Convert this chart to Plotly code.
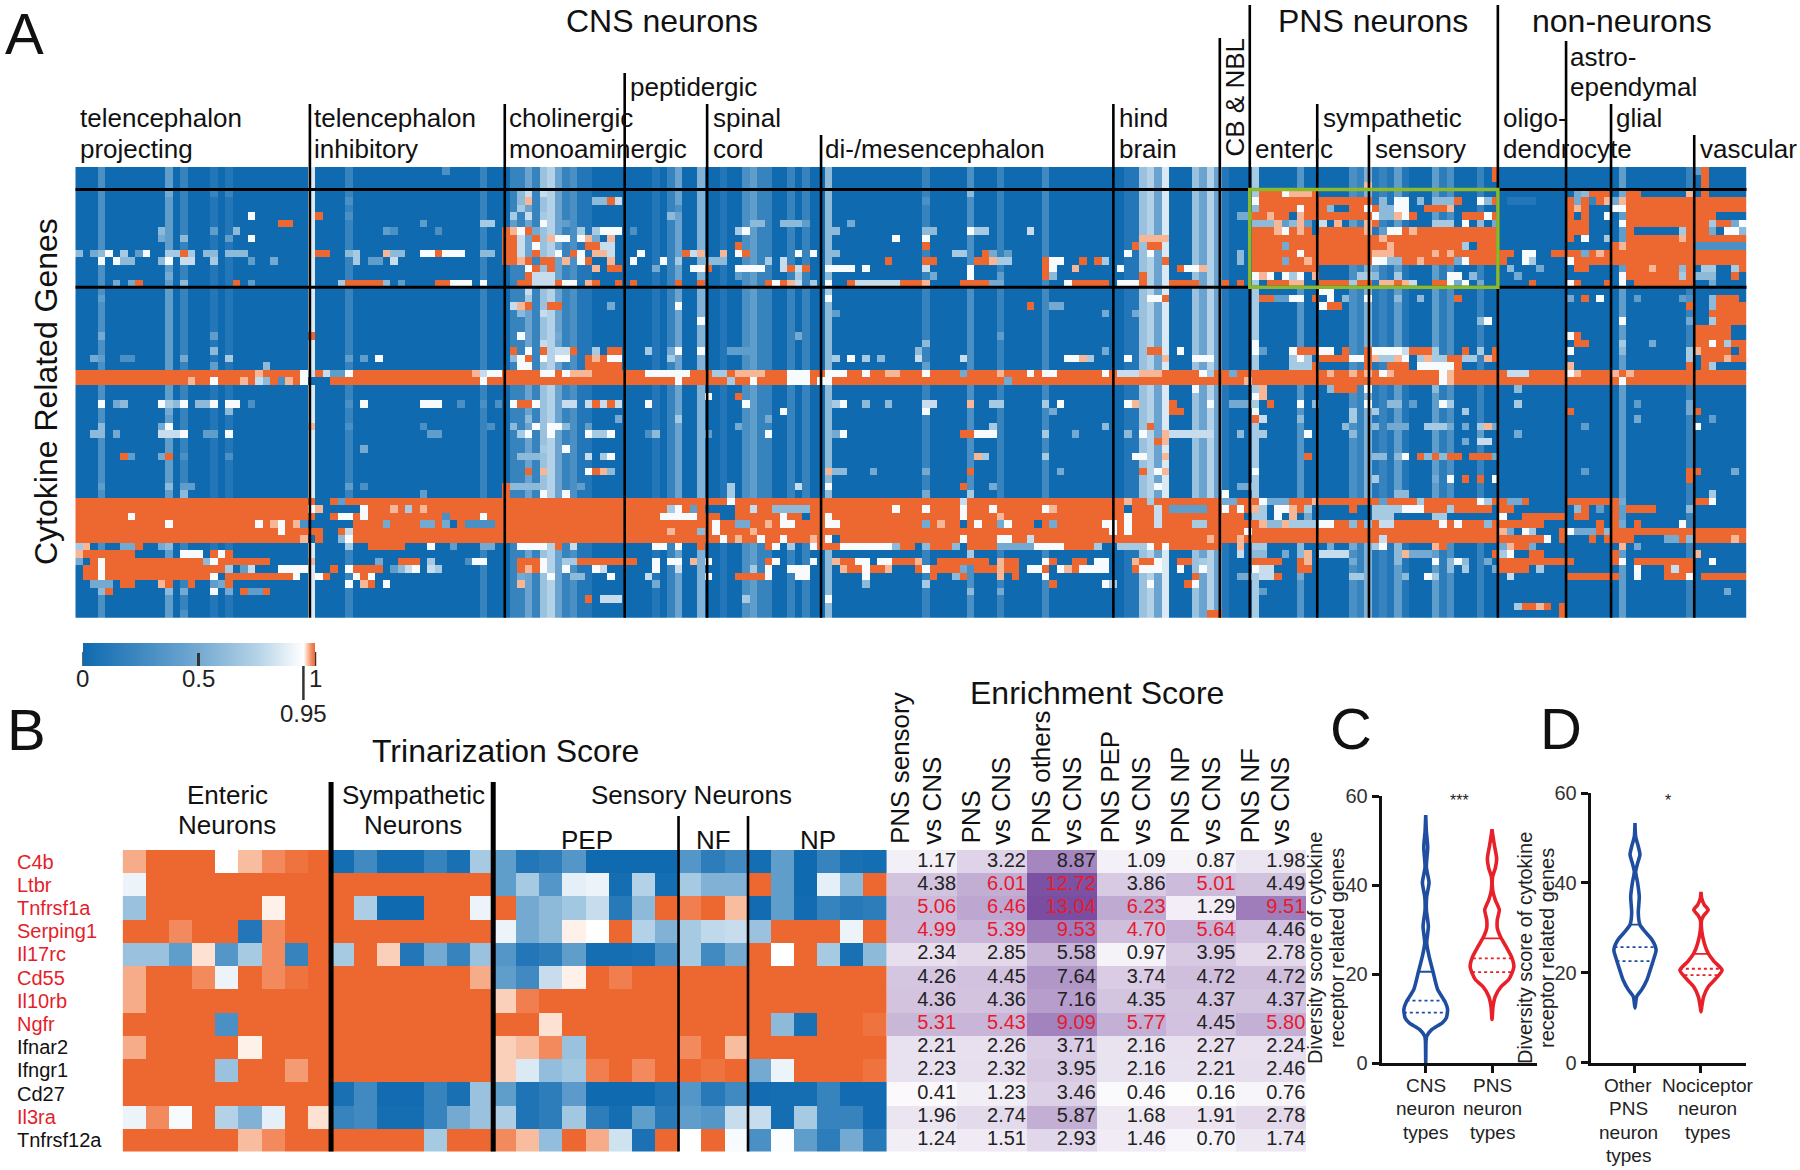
import plotly.graph_objects as go

W, H = 1800, 1170
SANS = "Liberation Sans, Arial, sans-serif"

# ---------- Panel A: 60 genes x 223 cell types ----------
A_ROW_COUNT = 60
A_COL_COUNT = 223
STRIPE_COLS = [3, 12, 14, 18, 20, 31, 36, 54, 58, 59, 60, 61, 62, 63, 64, 65, 66, 67, 68, 77, 79, 80, 83, 86,
               89, 90, 91, 92, 95, 97, 100, 113, 119, 123, 129, 140, 141, 142, 143, 144, 145, 149, 150, 151,
               152, 153, 157, 163, 170, 171, 172, 173, 174, 175, 176, 177, 181, 182, 183, 187, 206, 215]
STRIPE_LEVELS = [.3, .4, .2, .1, .1, .85, .2, .2, .2, .2, .45, .2, .65, .75, .45, .2, .3, .1, .1, .1, .2, .45, .55, .1,
                 .3, .4, .2, .2, .2, .2, .6, .2, .3, .2, .25, .1, .1, .65, .75, .45, .85, .65, .45, .75,
                 .45, .1, .7, .35, .3, .2, .55, .1, .2, .1, .4, .1, .4, .15, .3, .2, .4, .2]

# token "a-b:L": L is tenths, W near white, P peach, O at or above threshold, B background
A_ROWS_TOP = [
    "49:3 189:O 216:4 217:O",
    "189:O 217:O",
    "172:P 217:O",
    "3:3 12:5 18:2 20:2 59:6 60:8 62:8 89:3 119:6 158-165:O 161:W 162:P 163:P 164:P 200:5 201:6 202-204:O 206:5 207-208:O 215:P 217:O",
    "36:3 59:6 60:P 69-70:6 71:O 72:8 113:3 157:W 158-172:O 174:6 176-177:W 179:6 181-183:6 184:O 187:W 188:6 189:O 191-194:1 199:O 200:5 201:O 202:2 203:O 204:P 205:5 206:P 207-222:O",
    "59:7 80:3 157:6 158-165:O 163:W 166:O 167:6 170-171:O 172:W 173:O 174-175:6 176-177:W 178:B 180-183:O 183:P 184:B 199:O 200:P 201:O 205-206:W 207-222:O",
    "23:W 32:O 36:3 58:7 60:8 62:7 79:6 155-156:5 157-161:O 159:P 162:B 163:P 164-172:O 173:W 174-175:6 176:P 177:W 178:O 185-188:O 188:W 189:O 199:O 201:O 204:W 207-218:O",
    "27-28:O 46:4 54-55:7 58:4 62:W 65:4 90-91:6 94-96:6 97:4 103:5 157-159:6 160:P 161:4 162:6 163:P 164:4 166:8 168:P 170:4 172:P 173:O 181-183:7 185:W 187:6 189:5 199-201:O 206:W 207-217:O 218:7 219-220:O 221:5 222:W",
    "11:6 18:4 21:6 41:4 42:3 48:3 57:O 58:P 59:W 60:O 61:5 67:7 69:7 70:W 71-72:W 74:3 88:7 89:W 101:6 113-114:6 119:W 120-121:7 127:8 157-159:O 160:P 161:W 162:O 163:P 164:O 166-172:O 172:P 174:4 175-176:W 177-189:O 178:P 199-201:O 207:O 208-213:B 214:7 215-217:O 218:5 220-221:W 222:6",
    "11:5 14:6 20:4 23:W 57-58:O 59:8 61:O 63:P 64-65:W 67:W 68:P 69:5 71:P 109:W 113:W 142-145:P 157-189:O 174:P 199:O 200:B 201:W 204:7 207-213:O 214:P 215-222:O",
    "57-58:O 59:8 61:W 68-69:O 70-71:8 88:O 113:O 141:O 143-144:O 157-160:O 161:5 162-184:O 175:P 185:7 186:B 187-189:O 205:O 206:P 207:O 208-215:O 216-222:3",
    "0:6 2:5 3:6 4:W 6:7 8:4 9:W 12-13:7 14:O 15:7 17-18:6 20-22:6 32-33:O 36:6 37:7 41:P 42-43:6 46-47:W 48:O 49:W 50-51:W 54-55:6 57-58:O 59:8 61:O 64:W 66:O 67:W 69-70:P 71:8 75:W 81:O 82:8 83:P 86:P 88:W 89:O 96:W 98:W 100-101:6 117-118:7 121:O 122:5 124:4 140:W 143:W 155:6 157-162:O 163:W 164-172:O 173-175:P 176-189:O 181:P 183:P 190-191:O 193-194:W 197-200:O 201:5 202:O 203:P 204-222:O",
    "3:W 5:W 6-7:6 11:6 12:W 14-15:8 18:7 23:4 26:5 37:7 39-40:4 42:8 57-58:O 59:P 60:O 62-63:O 65:P 67:W 68:O 71:P 74:W 78:W 80:7 84-86:6 92:7 94:8 108:O 113-114:O 120-121:O 122:P 123-124:7 129:O 130-131:W 134:O 136:O 137:7 145:O 155:6 157-160:O 161:5 162-163:O 164:P 165-172:O 173-174:W 175-176:6 177-183:O 179:P 184:5 185:W 186-190:O 191:B 193:W 194:7 199:W 200-222:O",
    "60:W 61:O 63:O 69:P 71-72:O 77:5 82-83:W 84:O 88-90:W 91:W 94:8 95:O 96:8 97:O 100-103:W 105:W 113:8 119:W 129:O 130:W 133:P 139:W 147:O 148-149:W 150:P 157-165:O 173:4 176:4 191:6 195:5 200-201:O 207-215:O 210:P 214:6 217-218:7 221:7 222:O",
    "12:5 60:O 61-63:8 88:4 96:7 114:5 119:W 123:4 129:O 130:6 142:O 157:W 158:P 159:W 161:W 162:7 163:W 165:P 171-172:7 173:6 176:7 183-184:W 186:6 192:5 206:W 207-215:O 214:7 216-218:6 221:O",
    "5:5 7:5 8:O 14:6 21:O 23:4 35:7 36-40:O 41:6 43:4 48-49:O 50-52:W 54:W 59-60:O 61-63:8 64:O 65-66:W 68:P 69:O 72:O 74:O 80:O 83:O 92:O 93:W 94:O 95:P 96:8 98:7 100:W 103:O 104-109:8 110-113:O 113:P 118-121:O 122-123:5 132:W 133-137:O 139-141:W 142:O 146-149:O 153:O 155:O 159-161:O 162-163:P 166-169:O 170:7 171-172:O 174-175:P 176:O 177:P 178:8 181-182:O 183:W 184:5 185:W 187:5 194:O 199:W 200:O 204:O 206:W 208-215:O 218:5",
]
A_ROWS_MID = [
    "60:8 100:7 166-167:W",
    "3:4 60:7 100:W 143-144:W 145:O 158-159:O 160-161:4 162-163:W 165:O 167:W 169:6 172:W 176:6 179:6 184:O 199:5 201:O 203:W 206:4 208:4 214:4 215:3 218:6 219-221:O",
    "58:8 59:P 60:O 63-64:O 71:5 80:W 127:O 130-131:5 166:W 167-168:O 215:O 218:6 219-222:O",
    "59:6 62:8 101:4 137:5 141:5 218-222:O",
    "83:W 187:6 188:W 206:W 215:5 218:7 219-222:O",
    "216-220:O",
    "3:5 18:4 31:O 59:W 64:5 96:5 123:4 199:W 200:O 216-220:O",
    "62:8 113:6 157:W 200-201:O 206:7 210:5 216-217:O 218:W 219:O 220:7 221-222:O",
    "18:6 58:O 60:W 62:O 64-65:8 66:O 69:7 71-72:O 76:7 79:5 80:W 83:W 87-89:4 112:6 137:5 143-144:O 147:W 157:W 158:4 162:W 163-165:O 166-167:W 169:O 172:O 173-176:W 177:8 178-180:O 181:7 185:O 187:7 189:O 199:W 206:6 215:7 216:P 217-222:O 221:B",
    "2:5 3:4 6-7:3 14:5 20:7 36:4 38:4 40:W 58:6 59:W 60:O 62:W 64-65:W 68-71:O 69:P 71-72:W 79:7 101:7 103:W 105:7 107:6 112:8 118:8 132-133:W 134:P 135:7 140:W 145:P 149-151:W 157:7 162:7 163:W 164:7 166-169:O 170-171:W 172:O 173:P 174-175:7 176:P 177:W 179-182:7 180:P 183-184:O 185-186:7 188:P 189:O 215:7 217-222:O 220:P",
    "18:4 25:6 59-60:W 68-72:O 113:4 162-164:7 165:O 172:O 175-177:O 179-183:W 184:O 199:P 215:O 217:O 218:7",
    "0-222:O 24:P 30:W 31:8 33:8 34-35:4 36:W 53:P 54:8 55-56:W 62-63:W 65:W 66-68:P 76:W 77-81:W 85-86:7 88-91:P 95-97:W 100-102:W 105:W 108-109:P 113:W 118:5 123:P 127:W 129-130:W 137:W 139-141:8 142-144:P 150:W 151:7 154:5 167:P 170:P 172:P 174:W 175:P 182:W 183:P 191-193:8 199:W 200:P 205:P 207:P",
    "0-222:O 15:P 18:W 22:P 24:8 25:6 27:3 28:P 30:W 31-33:B 54:W 80:W 87:7 90:W 95-97:W 99-100:W 124:5 156:P 182:W 183:P 206:W",
    "149:W 157:7 158:P 167:6 168-170:O 172:W 181:6 192:6",
    "84:W 88:O 157:W 158:P",
    "3:W 5:5 6:6 11:W 12:7 13:6 14:W 16-17:6 18:W 20-21:W 23:3 36:3 38:W 46-48:W 51:3 54:3 56:3 58:W 59-60:O 61:W 65-66:8 68:8 69:O 70:8 71:O 72:8 76:W 89:W 101:7 102:W 105:6 108:6 113-114:8 119:P 122-123:7 129:7 131:W 140:W 141:P 146:O 151:W 154-156:5 159:O 163:W 165:6 172:W 175-176:6 178:4 182:W 183:7 192:7 208:4 215:5",
    "12:5 20:6 94:W 113:W 130:5 146-147:O 157:W 170:7 173:7 185:7 199:O 215:5 216:O",
    "60:6 72:5 80:7 92:5 157:O 158:8 163:6 170:7 208:5 218:4",
    "3:6 11:5 12:W 31:P 36:3 46:3 55:3 58:6 61:W 63-64:W 65:6 68:4 88:5 122:7 137:6 143:O 169:6 173:6 175-177:5 180-182:7 183:5 185:5 187:7 188:P 189:5 201:4 216:W",
    "2-3:6 5:5 11-13:8 14:W 17-18:4 20:W 47-48:4 59:7 60:W 63:W 68:W 69-70:7 71:W 76:3 77:6 84:4 92:W 101:5 102:W 118-119:O 120-122:W 129:7 133:5 140:6 142:W 145:P 146-151:8 155:6 157-158:7 164:W 170:6 187:4 192:5",
    "144:O 145:P 185:5 187-188:8",
    "38:5 62:7 65:W",
    "6:O 7:4 11:5 12:O 14:3 20:3 59-61:6 68:8 70:7 71:W 120:P 121:7 129:7 141-142:W 145:P 164:O 173-174:6 176:6 177:W 179:O 180:6 181:O 182:6 183-184:O 186-188:O 189:5",
    "",
    "60:O 62:P 68:W 69:O 70:P 71:6 100:P 101-102:6 106:5 113:5 119:O 131:5 142:O 144:W 145:P 157:W 201:4 215-216:O 221:5",
    "173:7 181:5 183:W 185:O 187:O 189:W 215:O",
    "3:4 12:6 14-15:4 36:4 38:3 57:O 58-61:6 67:4 87:7 96:8 100:W 118:O 122:5 144:W 155-156:5",
    "14:6 46:4 57:O 62:W 65:W 87:7 113:5 119:7 153:W 176-177:6 218:7",
]
A_ROWS_BOTTOM = [
    "0-189:O 32-33:B 35:4 87:W 118:8 140:P 143:7 153-154:5 158:W 159-161:5 165:P 174:4 179:7 187:W 188:7 190:O 191-192:5 193:O 199-205:O 206:5 216-217:O 218:W",
    "0-188:O 7:O 31:W 32:P 33-37:B 38:W 42:P 44:7 46:P 79:7 80:W 82:4 84-87:B 90:8 93-97:6 109:W 113:W 118:W 122:W 129:W 130:P 140:B 144:8 146-150:4 153:W 155:W 157:P 158:7 159:B 160-161:W 162:P 164:7 165-172:B 170:O 173-176:7 177-179:W 183:7 190-191:O 200:6 201:O 203:4 205:O 207-210:O 215:6",
    "0-155:O 7:W 32-33:B 35-36:W 38:W 49:3 54:W 78-82:W 86-87:B 94:W 97:B 100:W 118:W 123:P 140:W 144:8 156-189:B 157:7 158:7 160:W 162:P 164:5 173-175:7 181-182:7 190:W 193-198:O 200-201:O 205:O",
    "0-189:O 12:W 24:W 26:P 27:W 29:P 30:3 31-36:B 41:5 46-47:5 49:5 50:B 52-55:3 85:W 88-89:5 92:P 94-95:W 100-101:W 113:5 115:P 118:B 120:W 123:5 124:W 128:B 130:5 137-138:W 140:W 144:8 149-150:7 158:P 159-160:6 161:P 162-165:7 166-167:W 169:O 170:6 172:6 174-175:8 182:W 184:W 188:6 190-195:O 203:O 205:O 206:5 208:O 214:W",
    "0-189:O 27:W 33-34:B 36:8 79:P 83:6 85:W 90:P 138:W 140:W 156:W 190:P 191:5 193:W 194:7 198:O 199:W 200-202:5 203:O 204:6 205-222:O",
    "0-189:O 30:P 31:B 33-34:B 35:6 36:W 86:W 88:P 91:W 94:W 98:P 100:W 101:B 118:W 123-124:W 127:8 151:P 155:P 174:8 190-195:O 196:W 198:O 202:O 204:O 205-207:O 212-213:5 214:O 215:6 216-222:O 221:P",
    "0:7 1:P 6-7:5 8:O 11:5 12:6 36:7 39-43:O 47:W 50:4 54-55:5 59-62:W 64:O 66:8 77-78:W 80:W 83:O 92:O 93:W 95:7 98:W 99-101:O 102-108:W 109:6 110-111:O 113:6 114-116:O 117:6 119-122:O 123-127:5 128-131:W 132-135:O 136:7 139-142:7 143:W 144:O 145:W 146-152:O 155:P 157-158:7 163:6 167:5 170:5 173:7 174:W 176:6 181:P 182:O 190:5 191:P 192-193:O 194:5 206:P 208:5",
    "0:P 1-7:O 14-16:W 18-20:O 19:W 119:7 155:8 157-158:6 161:5 163:6 164:P 166-169:8 176:6 177:P 178-180:5 189:O 190:7 191:W 194-195:O 205:O 216:P",
    "0:5 2:O 3:W 4-16:O 17:6 18:W 19-25:O 31:P 40:5 43-45:O 47:7 52:3 53-54:W 59-61:O 62:W 65-66:7 67-74:O 77:W 79-80:W 82:P 84:W 92:O 93:W 98:W 101:P 102-103:O 104-105:W 107-108:W 109-112:O 112:P 115-121:O 123:P 124-125:O 129:W 130:O 133-134:O 136-137:W 141:P 142-143:O 144:W 147-148:O 150:7 157-160:O 163:O 164:P 170:5 176:6 181:W 183:6 184:W 185:6 188:5 190-199:O 205:O 206:W 208-215:O 218:W",
    "1-2:O 3:W 4-19:O 20:7 22:4 23:8 27-30:W 34:O 36:W 37-40:O 42:4 43:6 44:8 45:W 47:8 48:7 59:O 60:P 61:O 62:W 65:W 69:W 70:8 77:W 80:8 90:7 92:W 95-97:W 102:P 103-104:O 105:W 106-107:O 108:P 112:O 113:W 114-117:O 118:5 120-122:O 123:P 124-125:O 127-128:W 129:O 131:W 132:P 133:O 134-137:W 141:O 142-144:W 147:W 150:W 157:W 158-159:8 163-164:O 183:6 185:7 189:5 190-193:O 195:7 208:W 212-215:O 213:8",
    "1-2:O 3:W 4-17:O 18:W 20-28:O 29:W 32:W 33:O 37:W 38:O 39:W 59:5 63:W 66-67:6 71:W 76:8 84:W 88-91:O 92:W 96-97:W 105:W 114:O 117:6 118:O 123:P 125:O 129:W 149:O 155-156:5 158-159:8 160:O 163:5 170-171:7 177:6 180:W 181:7 191:8 199-205:O 208:W 212-215:O 215:W 217-222:O",
    "2-4:5 6-7:O 11:P 12:O 15:O 18:4 19:5 20:O 36:W 38:P 39:O 41:W 59:P 77:5 105:6 113:7 130:O 137:W 138:7 143:W 148:O 149:W",
    "3:6 4:O 12:6 14:5 18:W 20:5 22:O 23-24:4 25:O 119:6 123:5 158:4 220:5",
    "68:O 70-72:8 89:7 100:W",
    "192:7 193-194:O 195:P 196:O 198:O",
    "14:3 151-152:O 198:O",
]
A_DIVIDER_POS = [30.8, 56.8, 72.8, 83.8, 99.0, 138.0, 152.2, 156.2, 165.2, 172.1, 189.3, 198.4, 204.4, 215.5]
A_DIVIDER_TOP = [104, 104, 73, 104, 135, 104, 38, 5, 104, 135, 5, 41, 104, 135]
A_ROW_DIVIDERS = [2.5, 15.5]

A_LABELS = ["telencephalon", "projecting", "telencephalon", "inhibitory", "cholinergic", "monoaminergic",
            "peptidergic", "spinal", "cord", "di-/mesencephalon", "hind", "brain", "enteric", "sympathetic",
            "sensory", "oligo-", "dendrocyte", "astro-", "ependymal", "glial", "vascular"]
A_LABEL_X = [80, 80, 314, 314, 509, 509, 630, 713, 713, 825, 1119, 1119, 1255, 1323, 1375, 1503, 1503, 1570, 1570, 1616, 1700]
A_LABEL_Y = [118, 149, 118, 149, 118, 149, 87, 118, 149, 149, 118, 149, 149, 118, 149, 118, 149, 57, 87, 118, 149]

# ---------- Panel B trinarization ----------
GENES = ["C4b", "Ltbr", "Tnfrsf1a", "Serping1", "Il17rc", "Cd55", "Il10rb", "Ngfr", "Ifnar2", "Ifngr1", "Cd27", "Il3ra", "Tnfrsf12a"]
GENE_RED = [1, 1, 1, 1, 1, 1, 1, 1, 0, 0, 0, 1, 0]
C4B = [.975, 1, 1, 1, .95, .97, .985, .995, 1, .03, .25, .03, .03, .2, .05, .7, .4, .1, .15, .35, 0, 0, 0, 0, .35, .15, .25, .03, .4, 0, .2, .05, .03]
LTBR = [.9, 1, 1, 1, 1, 1, 1, 1, 1, 1, 1, 1, 1, 1, 1, 1, .4, .7, .35, .88, .9, .03, .75, .03, .7, .55, .55, 1, .4, 0, .88, .6, 1]
TNFRSF1A = [.65, 1, 1, 1, 1, 1, .955, 1, 1, 1, .72, 0, 0, 1, 1, .9, 1, .5, .6, .68, .8, .12, .6, 1, .99, 1, .97, .02, .4, .02, .2, .12, .15]
SERPING1 = [1, 1, .985, 1, 1, .1, .985, 1, 1, 1, 1, 1, 1, 1, 1, 1, .9, .5, .6, .955, .95, 1, .75, .55, .7, .78, .8, .65, 1, 1, 1, .9, 1]
IL17RC = [.65, .65, .4, .96, .35, .7, .985, .2, 1, .7, 1, .965, .1, .5, .2, .65, .35, .1, .15, .4, .03, .03, .05, .3, .7, .25, .5, 1, .95, 1, .7, .05, .6]
CD55 = [.975, 1, 1, .985, .9, 1, .985, .995, 1, 1, 1, 1, 1, 1, 1, .975, .4, .25, .8, .955, 1, .99, 1, 1, 1, 1, 1, 1, 1, 1, 1, 1, 1]
IL10RB = [.975, 1, 1, 1, 1, 1, 1, 1, 1, 1, 1, 1, 1, 1, 1, 1, .965, .99, 1, 1, 1, 1, 1, 1, 1, 1, 1, 1, 1, 1, 1, 1, 1]
NGFR = [1, 1, 1, 1, .3, 1, 1, 1, 1, 1, 1, 1, 1, 1, 1, 1, 1, 1, .96, 1, 1, 1, 1, 1, 1, 1, 1, 1, .6, .05, 1, 1, .995]
IFNAR2 = [.975, 1, 1, 1, 1, .955, 1, 1, 1, 1, 1, 1, 1, 1, 1, 1, .965, .97, .985, .65, 1, 1, 1, 1, .985, 1, .97, 1, 1, 1, 1, 1, 1]
IFNGR1 = [1, 1, 1, 1, .65, 1, 1, .98, 1, 1, 1, 1, 1, 1, 1, 1, .965, .85, .62, .68, .99, 1, .985, 1, 1, .995, 1, .5, .9, 1, 1, 1, .995]
CD27 = [1, 1, 1, 1, 1, 1, 1, 1, 1, .05, .25, .02, .02, .2, .05, .65, .4, .08, .15, .38, 0, 0, 0, .08, .35, .12, .25, .02, .03, .03, .2, .02, .02]
IL3RA = [.9, .985, .93, 1, .75, .55, .88, 1, .96, .2, .25, .03, .03, .2, .5, .65, .72, .08, .15, .68, .15, .03, .4, .12, .4, .35, .8, .8, .03, .7, .2, .2, .02]
TNFRSF12A = [1, 1, 1, 1, 1, .97, .985, 1, 1, 1, 1, 1, 1, .7, 1, 1, .985, .97, .62, 1, .975, .82, .06, 1, .95, 1, .93, .3, .94, .4, .15, .5, .12]
B_MATRIX = [C4B, LTBR, TNFRSF1A, SERPING1, IL17RC, CD55, IL10RB, NGFR, IFNAR2, IFNGR1, CD27, IL3RA, TNFRSF12A]
B_THICK_POS = [8.5, 15.5]
B_THIN_POS = [23.5, 26.5]

# ---------- Enrichment score ----------
ES_HEADERS = [("PNS sensory", "vs CNS"), ("PNS", "vs CNS"), ("PNS others", "vs CNS"), ("PNS PEP", "vs CNS"), ("PNS NP", "vs CNS"), ("PNS NF", "vs CNS")]
ES_SENSORY = [1.17, 4.38, 5.06, 4.99, 2.34, 4.26, 4.36, 5.31, 2.21, 2.23, 0.41, 1.96, 1.24]
ES_PNS = [3.22, 6.01, 6.46, 5.39, 2.85, 4.45, 4.36, 5.43, 2.26, 2.32, 1.23, 2.74, 1.51]
ES_OTHERS = [8.87, 12.72, 13.04, 9.53, 5.58, 7.64, 7.16, 9.09, 3.71, 3.95, 3.46, 5.87, 2.93]
ES_PEP = [1.09, 3.86, 6.23, 4.70, 0.97, 3.74, 4.35, 5.77, 2.16, 2.16, 0.46, 1.68, 1.46]
ES_NP = [0.87, 5.01, 1.29, 5.64, 3.95, 4.72, 4.37, 4.45, 2.27, 2.21, 0.16, 1.91, 0.70]
ES_NF = [1.98, 4.49, 9.51, 4.46, 2.78, 4.72, 4.37, 5.80, 2.24, 2.46, 0.76, 2.78, 1.74]
ES_COLUMNS = [ES_SENSORY, ES_PNS, ES_OTHERS, ES_PEP, ES_NP, ES_NF]
ES_RED = [(2, 0), (3, 0), (7, 0), (1, 1), (2, 1), (3, 1), (7, 1), (1, 2), (2, 2), (3, 2), (7, 2),
          (2, 3), (3, 3), (7, 3), (1, 4), (3, 4), (2, 5), (7, 5)]

# ---------- Panels C, D: violin outlines ----------
CNS_Y = [0, 5, 6, 7.5, 9, 10.1, 12, 13.8, 16.5, 20.5, 24, 27, 30.7, 34.4, 37.4, 40.5, 44, 48.5, 52, 55.7]
CNS_W = [0, .005, .015, .09, .25, .31, .33, .29, .18, .11, .05, .015, .04, .01, .015, .05, .01, .03, .01, 0]
CNS_LINES = [20.5, 14, 11.3]
CNS_LINE_W = [.11, .29, .33]
PNS_Y = [9.8, 12.7, 15, 17.2, 18.7, 20.2, 21.7, 24, 26.2, 28.4, 30.3, 32.2, 34.4, 36.6, 38.9, 41.9, 43.8, 46, 48.6, 50.9, 52.5]
PNS_W = [0, .015, .05, .14, .25, .3, .33, .29, .21, .125, .08, .08, .11, .05, .01, .01, .05, .07, .04, .015, 0]
PNS_LINES = [28, 23.5, 20.4]
PNS_LINE_W = [.125, .29, .3]
OTHER_Y = [12.2, 14.7, 16.2, 18.4, 20.6, 22.9, 25.1, 27.3, 29.2, 30.7, 33.3, 37, 40, 42.5, 44.4, 46.3, 48.1, 50.3, 53.3]
OTHER_W = [0, .025, .1, .18, .23, .28, .32, .26, .15, .075, .05, .065, .04, .01, .04, .075, .05, .01, 0]
OTHER_LINES = [30.7, 25.7, 22.6]
OTHER_LINE_W = [.075, .31, .28]
NOCI_Y = [11.3, 12.8, 14.7, 16.9, 18.8, 20.6, 22.5, 24.3, 26.6, 29.5, 31.8, 32.9, 34, 35.1, 36.6, 38]
NOCI_W = [0, .015, .04, .11, .23, .32, .2, .11, .05, .01, .01, .05, .11, .05, .01, 0]
NOCI_LINES = [24.2, 20.9, 19.5]
NOCI_LINE_W = [.11, .32, .25]
Y_TICKS = [0, 20, 40, 60]

BLUE0 = "#0f6ab0"
ORANGE = "#ed6730"
COLORSCALE = [[0, BLUE0], [.25, "#4089c1"], [.5, "#74aad2"], [.75, "#b4d2e7"], [.95, "#ffffff"],
              [.96, "#fde2d4"], [.97, "#f8bd9f"], [.985, "#f28a5e"], [1, ORANGE]]
LEVEL = {"W": .93, "P": .972, "O": 1.0, "B": 0.0}
LEVEL.update({str(i): i / 10 for i in range(1, 10)})

A_ROWS = A_ROWS_TOP + A_ROWS_MID + A_ROWS_BOTTOM
stripe_row = [0.0] * A_COL_COUNT
for c, v in zip(STRIPE_COLS, STRIPE_LEVELS):
    stripe_row[c] = v
z_a = []
for text in A_ROWS:
    row = list(stripe_row)
    for tok in text.split():
        span, lev = tok.split(":")
        a, _, b = span.partition("-")
        for c in range(int(a), int(b or a) + 1):
            row[c] = LEVEL[lev]
    z_a.append(row)


def fx(px):
    return px / W


def fy(py):
    return 1 - py / H


fig = go.Figure()
axis_off = dict(visible=False, showgrid=False, zeroline=False)
fig.update_layout(
    width=W, height=H, margin=dict(l=0, r=0, t=0, b=0, autoexpand=False), paper_bgcolor="white", plot_bgcolor="white",
    showlegend=False, font=dict(family=SANS, color="#111"),
    xaxis=dict(domain=[fx(75.3), fx(1746.7)], range=[-.5, A_COL_COUNT - .5], **axis_off),
    yaxis=dict(domain=[fy(617.7), fy(167)], range=[A_ROW_COUNT - .5, -.5], **axis_off),
    xaxis2=dict(domain=[fx(122.6), fx(887)], range=[-.5, 32.5], anchor="y2", **axis_off),
    yaxis2=dict(domain=[fy(1151.5), fy(850)], range=[12.5, -.5], anchor="x2", **axis_off),
    xaxis3=dict(domain=[fx(887), fx(1306)], range=[-.5, 5.5], anchor="y3", **axis_off),
    yaxis3=dict(domain=[fy(1151.5), fy(850)], range=[12.5, -.5], anchor="x3", **axis_off),
)
violin_y = dict(range=[0, 60], tickvals=Y_TICKS, ticks="outside", ticklen=7, tickwidth=3, tickcolor="#111",
                showline=True, linewidth=3, linecolor="#111", showgrid=False, zeroline=False,
                tickfont=dict(size=20, color="#333", family=SANS))
violin_x = dict(tickvals=[0, 1], ticktext=["", ""], ticks="outside", ticklen=7, tickwidth=3, tickcolor="#111",
                showline=True, linewidth=3, linecolor="#111", showgrid=False, zeroline=False)
fig.update_layout(
    xaxis4=dict(domain=[fx(1381.7), fx(1536.7)], range=[-.664, 1.674], anchor="y4", **violin_x),
    yaxis4=dict(domain=[fy(1063), fy(796)], anchor="x4", **violin_y),
    xaxis5=dict(domain=[fx(1590.7), fx(1746)], range=[-.671, 1.682], anchor="y5", **violin_x),
    yaxis5=dict(domain=[fy(1062.7), fy(793)], anchor="x5", **violin_y),
)

fig.add_trace(go.Heatmap(
    z=z_a, zmin=0, zmax=1, colorscale=COLORSCALE, xaxis="x", yaxis="y", hoverinfo="skip",
    colorbar=dict(orientation="h", x=fx(82.7), xanchor="left", y=fy(643), yanchor="top", lenmode="pixels", len=232.3,
                  thicknessmode="pixels", thickness=23, xpad=0, ypad=0, outlinewidth=0,
                  tickvals=[.5], ticks="inside", ticklen=13, tickwidth=2.5, showticklabels=False,
                  tickcolor="#333")))
fig.add_trace(go.Heatmap(z=B_MATRIX, zmin=0, zmax=1, colorscale=COLORSCALE, showscale=False, xaxis="x2", yaxis="y2", hoverinfo="skip"))
es_z = [[col[r] for col in ES_COLUMNS] for r in range(len(GENES))]
fig.add_trace(go.Heatmap(z=es_z, zmin=0, zmax=13.04, colorscale=[[0, "#ffffff"], [1, "#7a4da0"]], showscale=False,
                         xaxis="x3", yaxis="y3", hoverinfo="skip"))
red_set = set(ES_RED)
xs, ys, txt, cols = [], [], [], []
for c, col in enumerate(ES_COLUMNS):
    for r, v in enumerate(col):
        xs.append(c + .49)
        ys.append(r)
        txt.append(f"{v:.2f}")
        cols.append("#e8192c" if (r, c) in red_set else "#222222")
fig.add_trace(go.Scatter(x=xs, y=ys, text=txt, mode="text", textposition="middle left",
                         textfont=dict(size=20, color=cols, family=SANS), xaxis="x3", yaxis="y3", hoverinfo="skip", cliponaxis=False))


def violin(ax, ay, center, ys_, ws, line_y, line_w, color):
    fig.add_trace(go.Scatter(
        x=[center - w for w in ws] + [center + w for w in reversed(ws)],
        y=list(ys_) + list(reversed(ys_)), mode="lines", line=dict(color=color, width=3.6, shape="spline", smoothing=.6),
        xaxis=ax, yaxis=ay, hoverinfo="skip", cliponaxis=False))
    for i, (ly, lw) in enumerate(zip(line_y, line_w)):
        fig.add_trace(go.Scatter(x=[center - lw, center + lw], y=[ly, ly], mode="lines",
                                 line=dict(color=color, width=1.8, dash="solid" if i == 0 else "dot"),
                                 xaxis=ax, yaxis=ay, hoverinfo="skip"))


violin("x4", "y4", 0, CNS_Y, CNS_W, CNS_LINES, CNS_LINE_W, "#1f4ea1")
violin("x4", "y4", 1, PNS_Y, PNS_W, PNS_LINES, PNS_LINE_W, "#e8202a")
violin("x5", "y5", 0, OTHER_Y, OTHER_W, OTHER_LINES, OTHER_LINE_W, "#1f4ea1")
violin("x5", "y5", 1, NOCI_Y, NOCI_W, NOCI_LINES, NOCI_LINE_W, "#e8202a")

shapes = []
for pos, top in zip(A_DIVIDER_POS, A_DIVIDER_TOP):
    shapes.append(dict(type="line", xref="x", yref="paper", x0=pos, x1=pos, y0=fy(617.7), y1=fy(top), line=dict(color="#000", width=2.6)))
for pos in A_ROW_DIVIDERS:
    shapes.append(dict(type="line", xref="x", yref="y", x0=-.5, x1=A_COL_COUNT - .5, y0=pos, y1=pos, line=dict(color="#000", width=3)))
shapes.append(dict(type="rect", xref="x", yref="y", x0=156.2, x1=189.3, y0=2.5, y1=15.5, line=dict(color="#8cb82b", width=3.5)))
for pos in B_THICK_POS:
    shapes.append(dict(type="line", xref="x2", yref="paper", x0=pos, x1=pos, y0=fy(1151.5), y1=fy(782), line=dict(color="#000", width=5)))
for pos in B_THIN_POS:
    shapes.append(dict(type="line", xref="x2", yref="paper", x0=pos, x1=pos, y0=fy(1151.5), y1=fy(816), line=dict(color="#000", width=2.6)))
# colour-bar ticks at the ends and the long one at 0.95
for cx_px, top, bot in [(83.5, 652, 666), (315, 652, 666), (303.4, 652, 700)]:
    shapes.append(dict(type="line", xref="paper", yref="paper", x0=fx(cx_px), x1=fx(cx_px), y0=fy(bot), y1=fy(top), line=dict(color="#333", width=2.5)))

notes = []


def label(x, y, text, size=26, anchor="left", color="#111", angle=0, yanchor="middle", family=SANS):
    notes.append(dict(xref="paper", yref="paper", x=fx(x), y=fy(y), text=text, showarrow=False, xanchor=anchor,
                      yanchor=yanchor, textangle=angle, borderpad=0, borderwidth=0,
                      font=dict(size=size, color=color, family=family)))


for letter, x, y in [("A", 5, 33), ("B", 7, 729), ("C", 1330, 728), ("D", 1540, 728)]:
    label(x, y, letter, size=58)
for s, x in [("CNS neurons", 662), ("PNS neurons", 1373), ("non-neurons", 1622)]:
    label(x, 21, s, size=32, anchor="center")
for s, x, y in zip(A_LABELS, A_LABEL_X, A_LABEL_Y):
    label(x, y, s, size=26)
label(1235, 157, "CB &amp; NBL", size=26, anchor="center", angle=-90, yanchor="bottom")
label(46, 392, "Cytokine Related Genes", size=32, anchor="center", angle=-90)
for s, x in [("0", 82.7), ("0.5", 198.7), ("1", 315)]:
    label(x, 678, s, size=24, anchor="center", color="#222")
label(303.4, 713, "0.95", size=24, anchor="center", color="#222")

label(505, 751, "Trinarization Score", size=32, anchor="center")
label(1097, 693, "Enrichment Score", size=32, anchor="center")
label(227, 795, "Enteric", anchor="center")
label(227, 825, "Neurons", anchor="center")
label(413, 795, "Sympathetic", anchor="center")
label(413, 825, "Neurons", anchor="center")
label(691, 795, "Sensory Neurons", anchor="center")
label(587, 840, "PEP", anchor="center")
label(713, 840, "NF", anchor="center")
label(818, 840, "NP", anchor="center")
for i, (g, red) in enumerate(zip(GENES, GENE_RED)):
    label(17, 850 + 23.2 * (i + .5), g, size=20, color="#e41e2b" if red else "#111")

HEADER_X = [(900, 931.7), (970, 1001), (1040, 1071.7), (1109, 1140.7), (1179, 1210.7), (1249, 1280)]
for (a, b), (xa, xb) in zip(ES_HEADERS, HEADER_X):
    label(xa, 844, a, size=26, anchor="center", angle=-90, yanchor="bottom")
    label(xb, 845, b, size=26, anchor="center", angle=-90, yanchor="bottom")

for x1, x2 in [(1315, 1337), (1525, 1547)]:
    label(x1, 948, "Diversity score of cytokine", size=20, anchor="center", angle=-90, color="#222")
    label(x2, 948, "receptor related genes", size=20, anchor="center", angle=-90, color="#222")
for s, x, y in [("CNS", 1425.7, 1085), ("neuron", 1425.7, 1108), ("types", 1425.7, 1132),
                ("PNS", 1492, 1085), ("neuron", 1492, 1108), ("types", 1492, 1132),
                ("Other", 1628, 1085), ("PNS", 1628, 1108), ("neuron", 1628, 1132), ("types", 1628, 1155),
                ("Nociceptor", 1707.7, 1085), ("neuron", 1707.7, 1108), ("types", 1707.7, 1132)]:
    label(x, y, s, size=19, anchor="center", color="#222")
label(1459, 800, "***", size=16, anchor="center", color="#222")
label(1667.6, 800, "*", size=16, anchor="center", color="#222")

fig.update_layout(shapes=shapes, annotations=notes)
fig.write_html("out.html", config=dict(displayModeBar=False), post_script="document.body.style.margin='0';")
